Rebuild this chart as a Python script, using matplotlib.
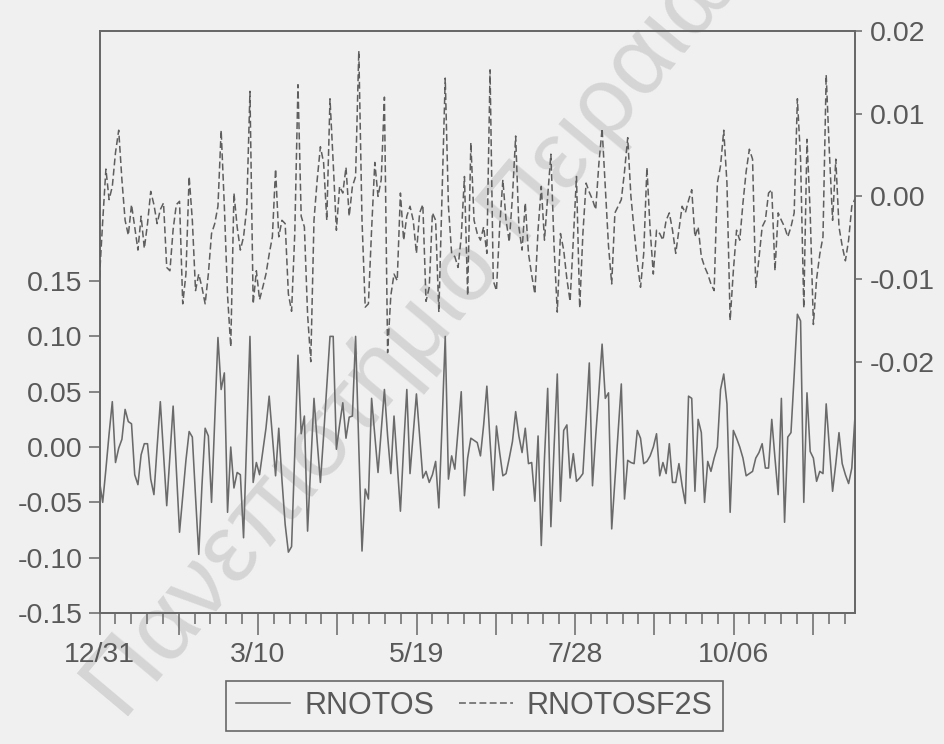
import numpy as np
import matplotlib
matplotlib.use('Agg')
import matplotlib.pyplot as plt
from matplotlib.lines import Line2D
from matplotlib.ticker import FormatStrFormatter

# ---------------- data ----------------
rnotos = [
    -0.031, -0.050, -0.020, 0.012, 0.041, -0.014, -0.001, 0.007, 0.034, 0.023,
    0.021, -0.025, -0.034, -0.007, 0.003, 0.003, -0.029, -0.043, 0.000, 0.041,
    -0.006, -0.053, -0.008, 0.037, -0.020, -0.077, -0.045, -0.012, 0.014, 0.009,
    -0.045, -0.097, -0.035, 0.017, 0.010, -0.050, 0.025, 0.099, 0.052, 0.067,
    -0.059, 0.000, -0.037, -0.023, -0.025, -0.082, 0.010, 0.100, -0.032, -0.014,
    -0.025, -0.004, 0.017, 0.046, 0.010, -0.026, 0.017, -0.030, -0.070, -0.095,
    -0.090, -0.005, 0.083, 0.012, 0.028, -0.076, -0.015, 0.044, 0.005, -0.032,
    0.010, 0.055, 0.100, 0.100, -0.002, 0.020, 0.040, 0.008, 0.027, 0.028,
    0.100, 0.000, -0.094, -0.038, -0.047, 0.044, 0.010, -0.023, 0.015, 0.052,
    0.010, -0.024, 0.028, -0.015, -0.058, 0.000, 0.052, -0.024, 0.012, 0.048,
    0.010, -0.028, -0.022, -0.032, -0.025, -0.013, -0.055, 0.020, 0.100, -0.029,
    -0.008, -0.020, 0.015, 0.050, -0.044, -0.010, 0.008, 0.006, 0.004, -0.008,
    0.020, 0.055, 0.005, -0.039, 0.019, -0.005, -0.026, -0.024, -0.010, 0.005,
    0.032, 0.010, -0.005, 0.017, -0.015, -0.014, -0.049, 0.010, -0.089, -0.010,
    0.053, -0.072, 0.000, 0.066, -0.049, 0.015, 0.020, -0.028, -0.006, -0.031,
    -0.028, -0.024, 0.025, 0.076, -0.035, 0.010, 0.050, 0.093, 0.044, 0.049,
    -0.074, -0.030, 0.015, 0.057, -0.047, -0.012, -0.014, -0.015, 0.015, 0.008,
    -0.015, -0.013, -0.008, 0.000, 0.012, -0.026, -0.014, -0.024, 0.003, -0.032,
    -0.032, -0.015, -0.035, -0.051, 0.046, 0.044, -0.040, 0.025, 0.013, -0.050,
    -0.013, -0.022, -0.010, 0.000, 0.052, 0.066, 0.039, -0.059, 0.015, 0.008,
    0.000, -0.010, -0.026, -0.024, -0.022, -0.010, -0.005, 0.003, -0.019, -0.019,
    0.025, -0.010, -0.043, 0.044, -0.068, 0.009, 0.013, 0.065, 0.120, 0.114,
    -0.050, 0.049, -0.004, -0.010, -0.031, -0.022, -0.024, 0.039, 0.000, -0.040,
    -0.015, 0.013, -0.015, -0.025, -0.033, -0.019, 0.028,
]

rnotosf2s = [
    -0.0098, -0.0030, 0.0033, -0.0004, 0.0012, 0.0053, 0.0080, 0.0020, -0.0029, -0.0047,
    -0.0010, -0.0037, -0.0065, -0.0024, -0.0063, -0.0033, 0.0006, -0.0010, -0.0033, -0.0016,
    -0.0008, -0.0086, -0.0090, -0.0040, -0.0010, -0.0006, -0.0130, -0.0094, 0.0024, -0.0029,
    -0.0114, -0.0094, -0.0110, -0.0130, -0.0094, -0.0045, -0.0033, -0.0012, 0.0080, -0.0012,
    -0.0120, -0.0182, 0.0004, -0.0037, -0.0065, -0.0049, -0.0014, 0.0127, -0.0130, -0.0090,
    -0.0125, -0.0110, -0.0094, -0.0070, -0.0049, 0.0033, -0.0049, -0.0029, -0.0033, -0.0118,
    -0.0139, -0.0045, 0.0135, -0.0024, -0.0037, -0.0143, -0.0200, -0.0029, 0.0020, 0.0060,
    0.0041, -0.0029, 0.0118, 0.0041, -0.0041, 0.0012, 0.0004, 0.0035, -0.0024, 0.0012,
    0.0024, 0.0176, -0.0029, -0.0134, -0.0130, -0.0040, 0.0041, 0.0000, 0.0020, 0.0120,
    -0.0189, -0.0120, -0.0094, -0.0102, 0.0004, -0.0053, -0.0024, -0.0012, -0.0029, -0.0069,
    -0.0020, -0.0010, -0.0127, -0.0110, -0.0020, -0.0029, -0.0140, 0.0000, 0.0143, -0.0012,
    -0.0069, -0.0073, -0.0086, -0.0049, 0.0024, -0.0120, 0.0065, -0.0029, -0.0045, -0.0053,
    -0.0037, -0.0069, 0.0153, -0.0102, -0.0114, -0.0037, 0.0020, -0.0029, -0.0055, 0.0000,
    0.0073, -0.0037, -0.0065, -0.0008, -0.0069, -0.0095, -0.0118, -0.0040, 0.0012, -0.0053,
    0.0000, 0.0051, -0.0061, -0.0140, -0.0045, -0.0065, -0.0100, -0.0127, -0.0053, 0.0024,
    -0.0135, -0.0045, 0.0016, 0.0005, -0.0004, -0.0016, 0.0040, 0.0082, 0.0010, -0.0060,
    -0.0106, -0.0020, -0.0012, -0.0004, 0.0030, 0.0071, 0.0000, -0.0041, -0.0080, -0.0110,
    -0.0069, 0.0035, -0.0040, -0.0094, -0.0041, -0.0045, -0.0053, -0.0029, -0.0020, -0.0041,
    -0.0069, -0.0040, -0.0012, -0.0020, -0.0005, 0.0008, -0.0049, -0.0037, -0.0073, -0.0085,
    -0.0094, -0.0106, -0.0114, 0.0016, 0.0037, 0.0080, 0.0016, -0.0150, -0.0090, -0.0041,
    -0.0053, -0.0008, 0.0030, 0.0057, 0.0045, -0.0110, -0.0075, -0.0037, -0.0029, 0.0004,
    0.0008, -0.0090, -0.0020, -0.0029, -0.0037, -0.0049, -0.0037, -0.0020, 0.0118, 0.0045,
    -0.0135, 0.0069, -0.0020, -0.0155, -0.0100, -0.0070, -0.0049, 0.0147, 0.0053, -0.0029,
    0.0045, -0.0037, -0.0060, -0.0078, -0.0053, -0.0012, -0.0003,
]

date_labels = ['12/31', '3/10', '5/19', '7/28', '10/06']
left_ticks = [-0.15, -0.10, -0.05, 0.00, 0.05, 0.10, 0.15]
right_ticks = [-0.02, -0.01, 0.00, 0.01, 0.02]
series_names = ['RNOTOS', 'RNOTOSF2S']
obs_per_week = 4.952          # trading days per calendar week (tick spacing)
watermark = 'Πανεπιστήμιο Πειραιώς'

# ---------------- style ----------------
plt.rcParams['font.family'] = ['Liberation Sans', 'DejaVu Sans']
plt.rcParams['axes.unicode_minus'] = False

bg = '#f0f0f0'
ink = '#595959'
line_col = '#6a6a6a'
dash_col = '#5e5e5e'
spine_col = '#686868'
fs = 20.5

W, H = 945, 744
fig = plt.figure(figsize=(W / 100, H / 100), dpi=100, facecolor=bg)
ax = fig.add_axes([99.5 / W, 1 - 613 / H, (855 - 99.5) / W, (613 - 31) / H])
ax.set_facecolor(bg)

x = np.arange(len(rnotos))
ax.plot(x, rnotos, color=line_col, lw=1.15, zorder=3)
ax.set_xlim(0, len(x) - 1)
ax.set_ylim(-0.15, 0.376)

ax2 = ax.twinx()
ax2.plot(x, rnotosf2s, color=dash_col, lw=1.1, dashes=(4.5, 2.2), zorder=3)
ax2.set_ylim(-0.0504, 0.02)

for a in (ax, ax2):
    for s in a.spines.values():
        s.set_color(spine_col)
        s.set_linewidth(1.3)

# left axis
ax.set_yticks(left_ticks)
ax.yaxis.set_major_formatter(FormatStrFormatter('%.2f'))
ax.tick_params(axis='y', which='both', direction='out', length=8, width=1.1,
               pad=4, labelsize=fs, color=spine_col, labelcolor=ink,
               left=True, right=False)

# right axis
ax2.set_yticks(right_ticks)
ax2.yaxis.set_major_formatter(FormatStrFormatter('%.2f'))
ax2.tick_params(axis='y', which='both', direction='out', length=5, width=1.1,
                pad=5.5, labelsize=fs, color=spine_col, labelcolor=ink,
                left=False, right=True)

# x axis: weekly minor ticks, 5-week major ticks, label every 10 weeks
weeks = np.arange(0, len(x), obs_per_week)
major = weeks[::5]
ax.set_xticks(major)
ax.set_xticklabels([date_labels[k // 2] if k % 2 == 0 and k // 2 < len(date_labels) else ''
                    for k in range(len(major))])
ax.set_xticks(weeks, minor=True)
ax.tick_params(axis='x', which='major', direction='out', length=16, width=1.1,
               pad=5, labelsize=fs, color=spine_col, labelcolor=ink)
ax.tick_params(axis='x', which='minor', direction='out', length=8, width=1.1,
               color=spine_col)

# faint watermark of the scanned source
ax.text(428 / W, 1 - 318 / H, watermark, transform=fig.transFigure,
        rotation=50, rotation_mode='anchor', ha='center', va='center',
        fontsize=70, color='#d5d5d5', zorder=1, clip_on=False)

# legend
handles = [Line2D([], [], color=line_col, lw=1.15),
           Line2D([], [], color=dash_col, lw=1.1, dashes=(4.5, 2.2))]
leg = fig.legend(handles, series_names, loc='center',
                 bbox_to_anchor=(474.5 / W, 1 - 706 / H), ncol=2, fontsize=22,
                 frameon=True, fancybox=False, edgecolor=spine_col,
                 facecolor=bg, framealpha=1, handlelength=1.76,
                 handletextpad=0.46, columnspacing=0.82, borderpad=0.33,
                 labelcolor=ink)
leg.get_frame().set_linewidth(1.2)

fig.savefig('out.png', dpi=100, facecolor=bg)
